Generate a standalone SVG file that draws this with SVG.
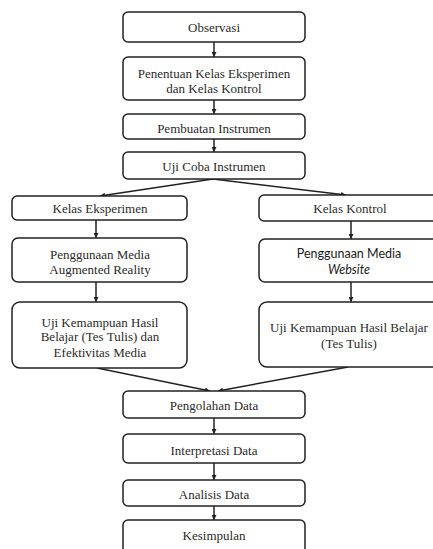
<svg xmlns="http://www.w3.org/2000/svg" width="433" height="549" viewBox="0 0 433 549">
<defs>
<style>
.box{fill:#fff;stroke:#222;stroke-width:1.5}
.t{font-family:"Liberation Serif","Times New Roman",serif;font-size:13px;fill:#2a2a2a;text-anchor:middle}
.s{font-family:Lato,"Noto Sans",sans-serif;font-size:12.5px;fill:#1a1a1a;text-anchor:middle}
.c{stroke:#222;stroke-width:1.5;fill:none;marker-end:url(#ah)}
</style>
<marker id="ah" viewBox="0 0 10 10" refX="10" refY="5" markerWidth="5" markerHeight="5" orient="auto" markerUnits="userSpaceOnUse">
<path d="M0,0 L10,5 L0,10 z" fill="#222"/>
</marker>
</defs>
<rect width="433" height="549" fill="#fff"/>
<g id="connectors">
<line class="c" x1="214" y1="42" x2="214" y2="57"/>
<line class="c" x1="214" y1="100" x2="214" y2="114"/>
<line class="c" x1="214" y1="139" x2="214" y2="152"/>
<line class="c" x1="213" y1="179" x2="100" y2="196"/>
<line class="c" x1="213" y1="179" x2="346" y2="195"/>
<line class="c" x1="96" y1="220" x2="96" y2="238"/>
<line class="c" x1="96" y1="282" x2="96" y2="302"/>
<line class="c" x1="351" y1="221" x2="351" y2="239"/>
<line class="c" x1="351" y1="282" x2="351" y2="302"/>
<line class="c" x1="97" y1="368" x2="210" y2="391"/>
<line class="c" x1="348" y1="367" x2="218" y2="391"/>
<line class="c" x1="214" y1="418" x2="214" y2="434"/>
<line class="c" x1="214" y1="463" x2="214" y2="480"/>
<line class="c" x1="214" y1="506" x2="214" y2="520"/>
</g>
<g id="observasi"><rect class="box" x="123" y="12" width="182" height="30" rx="5"/><text class="t" x="214" y="31.5">Observasi</text></g>
<g id="penentuan"><rect class="box" x="123" y="57" width="182" height="43" rx="5"/><text class="t" x="214" y="77.5">Penentuan  Kelas Eksperimen</text><text class="t" x="214" y="92.5">dan Kelas Kontrol</text></g>
<g id="pembuatan"><rect class="box" x="123" y="114" width="182" height="25" rx="5"/><text class="t" x="214" y="132.5">Pembuatan  Instrumen</text></g>
<g id="ujicoba"><rect class="box" x="123" y="152" width="182" height="27" rx="5"/><text class="t" x="214" y="170.5">Uji Coba Instrumen</text></g>
<g id="kelas-eksperimen"><rect class="box" x="12" y="196" width="175" height="24" rx="5"/><text class="t" x="100" y="212.5">Kelas Eksperimen</text></g>
<g id="kelas-kontrol"><rect class="box" x="259" y="195" width="182" height="26" rx="5"/><text class="t" x="350" y="212.5">Kelas Kontrol</text></g>
<g id="media-ar"><rect class="box" x="12" y="238" width="175" height="44" rx="6"/><text class="t" x="100" y="258.5">Penggunaan  Media</text><text class="t" x="100" y="273.5">Augmented  Reality</text></g>
<g id="media-website"><rect class="box" x="259" y="239" width="182" height="43" rx="6"/><text class="s" x="349" y="257.5">Penggunaan Media</text><text class="s" x="349" y="273.5" font-style="italic">Website</text></g>
<g id="uji-eksperimen"><rect class="box" x="12" y="302" width="175" height="66" rx="8"/><text class="t" x="100" y="326.5">Uji Kemampuan  Hasil</text><text class="t" x="100" y="340.5">Belajar  (Tes Tulis)  dan</text><text class="t" x="100" y="356.5">Efektivitas  Media</text></g>
<g id="uji-kontrol"><rect class="box" x="259" y="302" width="182" height="65" rx="8"/><text class="t" x="349" y="331.5">Uji Kemampuan  Hasil  Belajar</text><text class="t" x="349" y="347.5">(Tes Tulis)</text></g>
<g id="pengolahan"><rect class="box" x="123" y="391" width="182" height="27" rx="5"/><text class="t" x="214" y="409.5">Pengolahan  Data</text></g>
<g id="interpretasi"><rect class="box" x="123" y="434" width="182" height="29" rx="5"/><text class="t" x="214" y="454.5">Interpretasi  Data</text></g>
<g id="analisis"><rect class="box" x="123" y="480" width="182" height="26" rx="5"/><text class="t" x="214" y="498.5">Analisis  Data</text></g>
<g id="kesimpulan"><rect class="box" x="123" y="520" width="182" height="40" rx="5"/><text class="t" x="214" y="539.5">Kesimpulan</text></g>
</svg>
